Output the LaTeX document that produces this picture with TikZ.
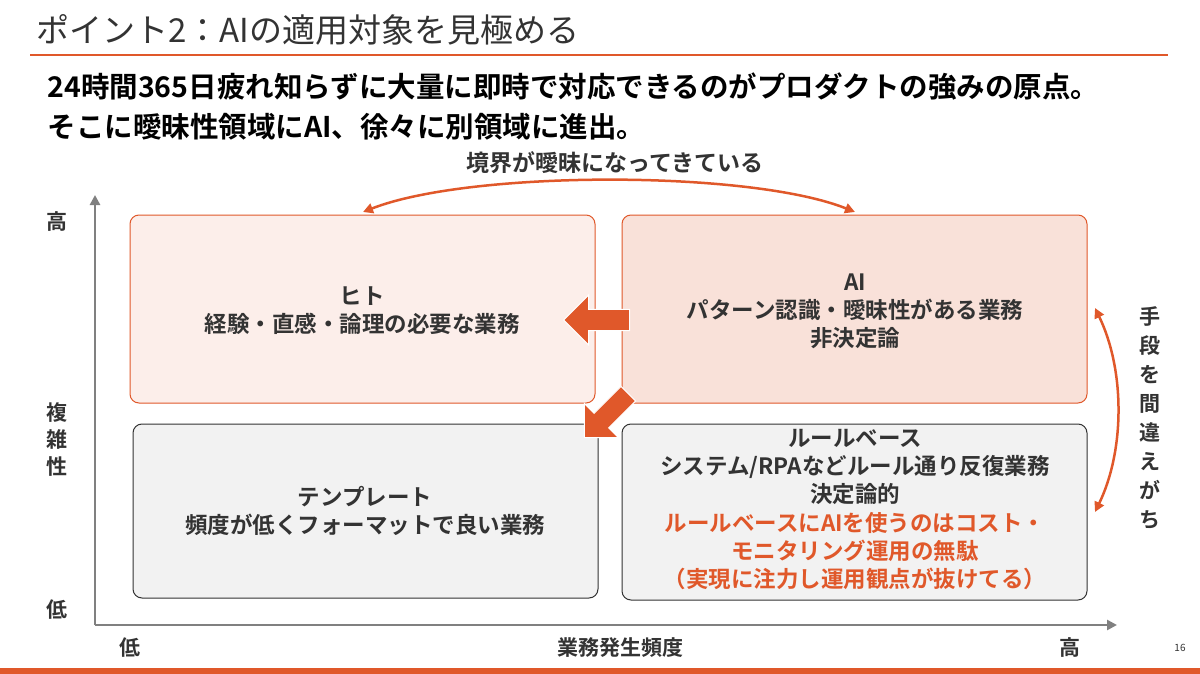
\documentclass[tikz,border=0pt]{standalone}
\usepackage{fontspec}
\setmainfont{Noto Sans CJK JP}
\newfontfamily\jpb{Noto Sans CJK JP}[BoldFont={* Bold}]
\usetikzlibrary{arrows.meta,shapes.arrows}
\definecolor{org}{HTML}{E0582A}
\definecolor{dk}{HTML}{333333}
\definecolor{gr}{HTML}{808080}
\begin{document}
\begin{tikzpicture}[x=1pt,y=-1pt,
  t/.style={font=\jpb\bfseries\fontsize{22.5}{28}\selectfont,text=dk,align=center},
  box/.style={rounded corners=9pt,line width=1pt},
  lab/.style={font=\jpb\bfseries\fontsize{21}{24}\selectfont,text=dk}]
\useasboundingbox (0,0) rectangle (1200,674);
\fill[white] (0,0) rectangle (1200,674);
\node[anchor=west,font=\fontsize{33}{36}\selectfont,text=dk] (title) at (33,30) {ポイント2：AIの適用対象を見極める};
\draw[org,line width=1.5pt] (30,55) -- (1168,55);
\node[anchor=west,font=\jpb\bfseries\fontsize{28.5}{32}\selectfont,text=black] (s1) at (44,87) {24時間365日疲れ知らずに大量に即時で対応できるのがプロダクトの強みの原点。};
\node[anchor=west,font=\jpb\bfseries\fontsize{28.5}{32}\selectfont,text=black] (s2) at (44,127) {そこに曖昧性領域にAI、徐々に別領域に進出。};
% boxes
\draw[box,draw=org,fill=org!10] (130,215) rectangle (595,403);
\draw[box,draw=org,fill=org!18] (622,215) rectangle (1087,403);
\draw[box,draw=dk,fill=black!5] (133,424) rectangle (598,598);
\draw[box,draw=dk,fill=black!5] (622,424) rectangle (1087,600);
\node[t] (hito) at (362,311) {ヒト\\経験・直感・論理の必要な業務};
\node[t] (ai) at (855,311) {AI\\パターン認識・曖昧性がある業務\\非決定論};
\node[t] (tmp) at (365,511) {テンプレート\\頻度が低くフォーマットで良い業務};
\node[t,text=dk] (rule) at (855,467) {ルールベース\\システム/RPAなどルール通り反復業務\\決定論的};
\node[t,text=org] (warn) at (855,551) {ルールベースにAIを使うのはコスト・\\モニタリング運用の無駄\\（実現に注力し運用観点が抜けてる）};
% block arrows
\node[single arrow,fill=org,draw=white,line width=1pt,minimum height=66pt,minimum width=50pt,single arrow head extend=6pt,shape border rotate=180,inner sep=4pt] (a1) at (602,320) {};
\node[single arrow,fill=org,draw=white,line width=1pt,minimum height=62pt,minimum width=48pt,single arrow head extend=6pt,rotate=-135,inner sep=4pt] (a2) at (610,412) {};
% axes
\coordinate (o) at (95,625);
\coordinate (yt) at (95,195);
\coordinate (xt) at (1117,625);
\draw[gr,line width=2.5pt,-{Triangle[length=10pt,width=10pt]}] (o) -- (yt);
\draw[gr,line width=2.5pt,-{Triangle[length=10pt,width=10pt]}] (o) -- (xt);
\node[lab] (yh) at (57,222) {高};
\node[lab,align=center] (yc) at (57,440) {複\\[3pt]雑\\[3pt]性};
\node[lab] (yl) at (57,610) {低};
\node[lab] (xl) at (130,648) {低};
\node[lab] (xc) at (620,648) {業務発生頻度};
\node[lab] (xh) at (1070,648) {高};
\node[font=\fontsize{10}{10}\selectfont,text=dk] (pg) at (1180,648) {16};
% top curved arrow
\coordinate (c1) at (363,212);
\coordinate (c2) at (855,212);
\draw[org,line width=2.5pt,{Triangle[length=10pt,width=10pt]}-{Triangle[length=10pt,width=10pt]}] (c1) .. controls (470,170) and (750,170) .. (c2);
\node[font=\jpb\bfseries\fontsize{23}{26}\selectfont,text=dk] (bd) at (615,163) {境界が曖昧になってきている};
% right curved arrow
\coordinate (r1) at (1095,308);
\coordinate (r2) at (1095,512);
\draw[org,line width=2.5pt,{Triangle[length=10pt,width=10pt]}-{Triangle[length=10pt,width=10pt]}] (r1) .. controls (1125,370) and (1125,450) .. (r2);
\node[lab,align=center,font=\jpb\bfseries\fontsize{21}{29}\selectfont] (rt) at (1150,418) {手\\段\\を\\間\\違\\え\\が\\ち};
\fill[org] (0,668) rectangle (1200,674);
\end{tikzpicture}
\end{document}
